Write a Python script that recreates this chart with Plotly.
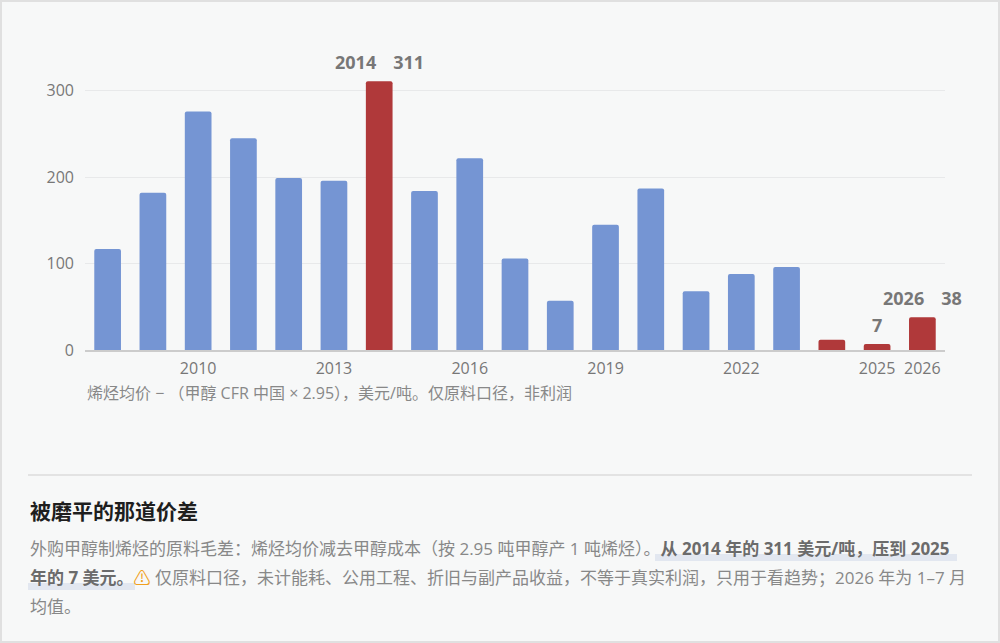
import plotly.graph_objects as go

# 外购甲醇制烯烃原料毛差，美元/吨
years = list(range(2008, 2027))
spread = [117, 182, 276, 245, 199, 196, 311, 184, 222, 106,
          57, 145, 187, 68, 88, 96, 12, 7, 38]
highlight_years = [2014, 2024, 2025, 2026]
tick_years = [2010, 2013, 2016, 2019, 2022, 2025, 2026]
labels = {2014: "2014&nbsp;&nbsp;&nbsp;\u2009311", 2025: "7", 2026: "2026&nbsp;&nbsp;&nbsp;\u200938"}

BLUE = "#7595d3"
RED = "#b0393a"
FONT = "Open Sans, Noto Sans CJK SC, sans-serif"

# plot area in pixels, used to place the text block below the chart
L, R, T, B = 85, 945, 39, 350


def px(x):
    return (x - L) / (R - L)


def py(y):
    return (B - y) / (B - T)


colors = [RED if y in highlight_years else BLUE for y in years]

fig = go.Figure(go.Bar(x=years, y=spread, marker_color=colors,
                       marker_line_width=0, width=0.59, hoverinfo="x+y"))

annotations = []
for yr, txt in labels.items():
    annotations.append(dict(x=yr, y=spread[years.index(yr)], text=txt, showarrow=False,
                            yanchor="bottom", yshift=5,
                            font=dict(family=FONT, size=18, color="#777777", weight="bold")))

body = dict(family=FONT, size=17, color="#888888")
annotations += [
    dict(xref="paper", yref="paper", x=px(85), y=py(393), xanchor="left", yanchor="middle",
         text="烯烃均价 − （甲醇 CFR 中国 × 2.95），美元/吨。仅原料口径，非利润",
         showarrow=False, font=dict(family=FONT, size=16, color="#888888")),
    dict(xref="paper", yref="paper", x=px(28), y=py(510), xanchor="left", yanchor="middle",
         text="<b>被磨平的那道价差</b>",
         showarrow=False, font=dict(family="Noto Sans CJK SC", size=21, color="#1e1e1e")),
    dict(xref="paper", yref="paper", x=px(28), y=py(548), xanchor="left", yanchor="middle",
         text="外购甲醇制烯烃的原料毛差：烯烃均价减去甲醇成本（按 2.95 吨甲醇产 1 吨烯烃）。"
              "<b><span style='color:#6b6b6b'>从 2014 年的 311 美元/吨，压到 2025</span></b>",
         showarrow=False, font=body),
    dict(xref="paper", yref="paper", x=px(28), y=py(577), xanchor="left", yanchor="middle",
         text="<b><span style='color:#6b6b6b'>年的 7 美元。</span></b>"
              "<span style='color:#f0a020'>⚠</span> 仅原料口径，未计能耗、公用工程、折旧与副产品收益，"
              "不等于真实利润，只用于看趋势；2026 年为 1–7 月",
         showarrow=False, font=body),
    dict(xref="paper", yref="paper", x=px(28), y=py(606), xanchor="left", yanchor="middle",
         text="均值。", showarrow=False, font=body),
]

shapes = [
    # outer frame
    dict(type="rect", xref="paper", yref="paper", x0=px(1), x1=px(999), y0=py(1), y1=py(642),
         line=dict(color="#e0e0e0", width=2), layer="below"),
    # divider
    dict(type="line", xref="paper", yref="paper", x0=px(28), x1=px(972), y0=py(475), y1=py(475),
         line=dict(color="#dcdcdc", width=1.5)),
    # highlight bands under bold text
    dict(type="rect", xref="paper", yref="paper", x0=px(655), x1=px(957), y0=py(554), y1=py(561),
         fillcolor="#e2e7f0", line_width=0, layer="above"),
    dict(type="rect", xref="paper", yref="paper", x0=px(28), x1=px(135), y0=py(583), y1=py(590),
         fillcolor="#e2e7f0", line_width=0, layer="above"),
]

fig.update_layout(
    width=1000, height=643,
    margin=dict(l=L, r=1000 - R, t=T, b=643 - B),
    paper_bgcolor="#f7f8f8", plot_bgcolor="#f7f8f8",
    barcornerradius=2,
    showlegend=False,
    font=dict(family=FONT, size=16, color="#777777"),
    annotations=annotations,
    shapes=shapes,
    xaxis=dict(range=[2007.5, 2026.5], tickvals=tick_years, ticktext=[str(t) for t in tick_years],
               showgrid=False, showline=True, linecolor="#cccccc", linewidth=1.5,
               ticks="", ticklabelstandoff=3, tickfont=dict(size=16, color="#777777")),
    yaxis=dict(range=[0, 360], tickvals=[0, 100, 200, 300], showgrid=True,
               gridcolor="#e8e9ea", gridwidth=1, zeroline=False, showline=False,
               ticks="", ticklabelstandoff=10, tickfont=dict(size=16, color="#777777")),
)

fig.write_html("out.html", config={"displayModeBar": False},
               post_script="document.body.style.margin='0';document.body.style.overflow='hidden';")
